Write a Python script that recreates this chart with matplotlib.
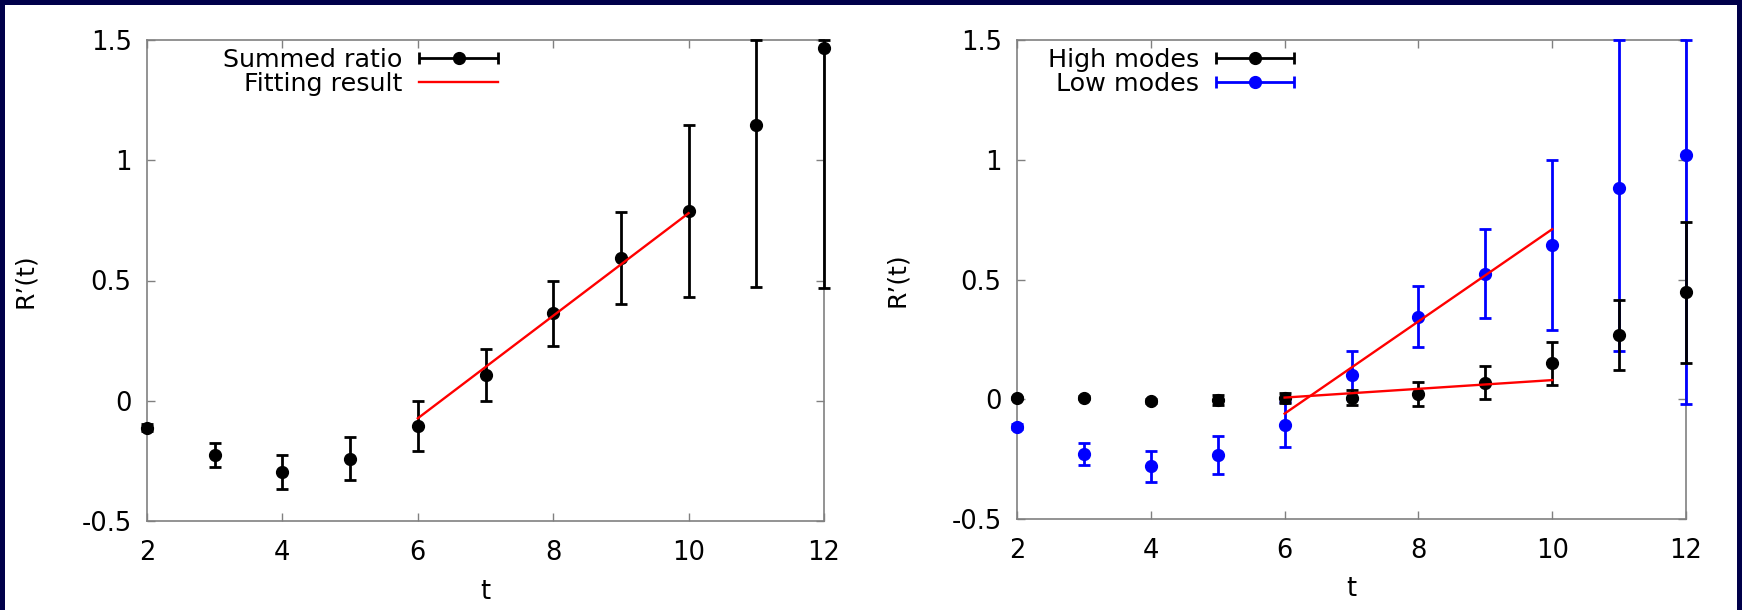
import numpy as np
import matplotlib.pyplot as plt
from matplotlib.patches import Rectangle
from matplotlib.container import ErrorbarContainer
from matplotlib.legend_handler import HandlerErrorbar

# time slices
t = np.arange(2, 13)

# left panel: summed ratio
summed = [-0.112, -0.227, -0.296, -0.241, -0.107, 0.107, 0.364, 0.594, 0.79, 1.148, 1.468]
summed_err = [0.015, 0.05, 0.07, 0.09, 0.104, 0.11, 0.135, 0.19, 0.358, 0.677, 1.0]

# right panel: high / low modes
high = [0.004, 0.007, -0.008, -0.002, 0.005, 0.007, 0.02, 0.069, 0.15, 0.268, 0.447]
high_err = [0.005, 0.006, 0.008, 0.02, 0.02, 0.03, 0.05, 0.07, 0.09, 0.147, 0.295]
low = [-0.114, -0.229, -0.28, -0.232, -0.106, 0.10, 0.345, 0.524, 0.643, 0.881, 1.019]
low_err = [0.01, 0.046, 0.065, 0.08, 0.095, 0.1, 0.126, 0.185, 0.355, 0.68, 1.04]

# linear fits over t = 6..10
fit_t = [6, 10]
fit_summed = [-0.073, 0.78]
fit_high = [0.007, 0.08]
fit_low = [-0.06, 0.71]

xticks = [2, 4, 6, 8, 10, 12]
yticks = [-0.5, 0, 0.5, 1, 1.5]
ytick_labels = ['-0.5', '0', '0.5', '1', '1.5']
ylim = (-0.5, 1.5)

plt.rcParams['font.family'] = ['DejaVu Sans']

W, H = 1742, 610
fig = plt.figure(figsize=(W / 100, H / 100), dpi=100)
fig.patch.set_facecolor('#00004a')
# white slide area
fig.add_artist(Rectangle((5 / W, 0), 1732 / W, 605 / H, transform=fig.transFigure,
                         facecolor='white', edgecolor='none', zorder=-1))

ax1 = fig.add_axes([147 / W, (H - 521) / H, 677 / W, 481 / H])
ax2 = fig.add_axes([1017 / W, (H - 519) / H, 669 / W, 479 / H])


def clipped_err(vals, errs):
    # gnuplot draws the bar (and cap) at the border when it runs off the plot
    vals = np.asarray(vals)
    errs = np.asarray(errs)
    upper = np.minimum(vals + errs, ylim[1]) - vals
    lower = vals - np.maximum(vals - errs, ylim[0])
    return [lower, upper]


def draw_points(ax, vals, errs, color, z):
    return ax.errorbar(t, vals, yerr=clipped_err(vals, errs), fmt='o', color=color,
                       ms=8.5, elinewidth=2.0, capsize=4.3, capthick=2.0, zorder=z,
                       clip_on=False)


def style_axes(ax):
    ax.set_xlim(2, 12)
    ax.set_ylim(*ylim)
    ax.set_xticks(xticks)
    ax.set_yticks(yticks)
    ax.set_yticklabels(ytick_labels)
    ax.tick_params(direction='in', length=6, width=1, color='#808080',
                   top=True, right=True, labelsize=18.5)
    ax.tick_params(axis='x', pad=14)
    ax.tick_params(axis='y', pad=11)
    for s in ax.spines.values():
        s.set_color('#808080')
        s.set_linewidth(1.2)
    ax.set_xlabel('t', fontsize=18.5)
    ax.set_ylabel('R’(t)', fontsize=18)
    ax.xaxis.set_label_coords(0.5, -0.12)
    ax.yaxis.set_label_coords(-0.162, 0.5)


def errbar_handle(cont):
    return ErrorbarContainer(cont.lines, has_xerr=True, has_yerr=False)


leg_kw = dict(loc='upper right', frameon=False, markerfirst=False, handlelength=3.1,
              handletextpad=0.65, fontsize=18.3, labelspacing=0.02, borderaxespad=0,
              borderpad=0.3, handler_map={ErrorbarContainer: HandlerErrorbar(xerr_size=1.55)})

# left panel
c_sum = draw_points(ax1, summed, summed_err, 'black', 3)
fit1, = ax1.plot(fit_t, fit_summed, color='#ff0000', lw=1.7, zorder=5)
style_axes(ax1)
ax1.legend([errbar_handle(c_sum), fit1], ['Summed ratio', 'Fitting result'],
           bbox_to_anchor=(0.53, 1.0), **leg_kw)

# right panel
c_low = draw_points(ax2, low, low_err, '#0000ff', 3)
c_high = draw_points(ax2, high, high_err, 'black', 4)
ax2.plot(fit_t, fit_low, color='#ff0000', lw=1.7, zorder=5)
ax2.plot(fit_t, fit_high, color='#ff0000', lw=1.7, zorder=5)
style_axes(ax2)
ax2.legend([errbar_handle(c_high), errbar_handle(c_low)], ['High modes', 'Low modes'],
           bbox_to_anchor=(0.426, 1.0), **leg_kw)

fig.savefig('out.png', dpi=100, facecolor=fig.get_facecolor())
